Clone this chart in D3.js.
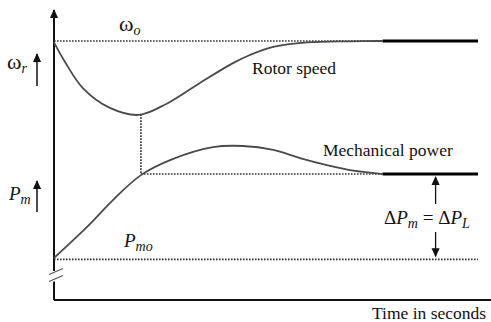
<!DOCTYPE html>
<html>
<head>
<meta charset="utf-8">
<script src="https://cdn.jsdelivr.net/npm/d3@7"></script>
<style>
  body { margin: 0; background: #fff; }
  svg { display: block; }
</style>
</head>
<body>
<div id="chart"></div>
<script>
// time axis (s) and response values (arbitrary units)
const rotorTime = [0, 0.26, 0.68, 1.32, 2.0, 2.67, 3.44, 4.22, 4.62, 5.17, 5.97, 6.98, 7.75];
const rotorSpeed = [92, 85, 75.7, 68.6, 66.1, 70.2, 77.5, 84.6, 87.5, 90.4, 92.0, 92.4, 92.5];
const powerTime = [0, 0.78, 1.39, 2.05, 2.81, 3.75, 4.46, 5.17, 5.8, 6.51, 6.98, 7.75];
const mechPower = [15, 26.1, 35.7, 44.6, 50.4, 54.6, 55, 53.6, 50.7, 47.9, 46.4, 45];

const omegaO = 92.5;   // initial speed
const pSteady = 45;    // final mechanical power
const pmO = 14.5;      // initial mechanical power
const tMin = 2.05;     // time of speed dip
const tSettle = 7.75;  // settling time
const tEnd = 10;

const width = 491,
  height = 322;
const serif = '"Liberation Serif", "Times New Roman", "DejaVu Serif", serif';

const svg = d3
  .select("#chart")
  .append("svg")
  .attr("width", width)
  .attr("height", height);

const xScale = d3.scaleLinear([0, tEnd], [54, 478]);
const yScale = d3.scaleLinear([0, 100], [300, 20]);

// arrow heads
const defs = svg.append("defs");
defs
  .append("marker")
  .attr("id", "arrow")
  .attr("viewBox", "0 0 10 10")
  .attr("refX", 9)
  .attr("refY", 5)
  .attr("markerWidth", 11)
  .attr("markerHeight", 9)
  .attr("markerUnits", "userSpaceOnUse")
  .attr("orient", "auto-start-reverse")
  .append("path")
  .attr("d", "M0,0.5 L10,5 L0,9.5 Z")
  .attr("fill", "#111");

/* Axes */
const x0 = xScale(0);
const yBase = yScale(0);

svg.append("line")
  .attr("x1", x0).attr("y1", yBase)
  .attr("x2", x0).attr("y2", yScale(6.6))
  .attr("stroke", "#111").attr("stroke-width", 2);

svg.append("line")
  .attr("x1", x0).attr("y1", yScale(10.4))
  .attr("x2", x0).attr("y2", yScale(103.6))
  .attr("stroke", "#111").attr("stroke-width", 2)
  .attr("marker-end", "url(#arrow)");

// axis break marks
[7.7, 10.2].forEach((v) => {
  svg.append("line")
    .attr("x1", x0 - 5).attr("y1", yScale(v) + 3)
    .attr("x2", x0 + 9).attr("y2", yScale(v) - 3)
    .attr("stroke", "#555").attr("stroke-width", 1.2);
});

svg.append("line")
  .attr("x1", x0).attr("y1", yBase)
  .attr("x2", xScale(10.6)).attr("y2", yBase)
  .attr("stroke", "#111").attr("stroke-width", 2)
  .attr("marker-end", "url(#arrow)");

/* Reference (dotted) lines */
const dotted = (t1, v1, t2, v2) =>
  svg.append("line")
    .attr("x1", xScale(t1)).attr("y1", yScale(v1))
    .attr("x2", xScale(t2)).attr("y2", yScale(v2))
    .attr("stroke", "#333")
    .attr("stroke-width", 1.6)
    .attr("stroke-dasharray", "1.6,1.4");

dotted(0, omegaO, tSettle, omegaO);
dotted(tMin, 66.3, tMin, pSteady);
dotted(tMin, pSteady, tSettle, pSteady);
dotted(0, pmO, tEnd, pmO);

/* Steady-state solid lines */
[omegaO, pSteady].forEach((v) => {
  svg.append("line")
    .attr("x1", xScale(tSettle)).attr("y1", yScale(v))
    .attr("x2", xScale(tEnd)).attr("y2", yScale(v))
    .attr("stroke", "#000").attr("stroke-width", 3);
});

/* Response curves */
const line = d3
  .line()
  .curve(d3.curveCatmullRom.alpha(0.5))
  .x((d) => xScale(d[0]))
  .y((d) => yScale(d[1]));

svg.append("path")
  .datum(d3.zip(rotorTime, rotorSpeed))
  .attr("fill", "none")
  .attr("stroke", "#4a4a4a")
  .attr("stroke-width", 1.8)
  .attr("d", line);

svg.append("path")
  .datum(d3.zip(powerTime, mechPower))
  .attr("fill", "none")
  .attr("stroke", "#4a4a4a")
  .attr("stroke-width", 1.8)
  .attr("d", line);

/* Delta P arrow */
svg.append("line")
  .attr("x1", xScale(9.0)).attr("y1", yScale(pSteady) + 30)
  .attr("x2", xScale(9.0)).attr("y2", yScale(pSteady) + 3)
  .attr("stroke", "#111").attr("stroke-width", 1.3)
  .attr("marker-end", "url(#arrow)");
svg.append("line")
  .attr("x1", xScale(9.0)).attr("y1", yScale(pSteady) + 58)
  .attr("x2", xScale(9.0)).attr("y2", yScale(pmO) - 3)
  .attr("stroke", "#111").attr("stroke-width", 1.3)
  .attr("marker-end", "url(#arrow)");

/* Labels */
const label = (x, y, size) =>
  svg.append("text")
    .attr("x", x).attr("y", y)
    .style("font-family", serif)
    .style("font-size", size + "px")
    .style("fill", "#111");

const sub = (t, txt, italic) =>
  t.append("tspan")
    .attr("dy", 4)
    .style("font-size", "14px")
    .style("font-style", italic ? "italic" : "normal")
    .text(txt);

// omega_o
let t = label(119, 31, 22);
t.append("tspan").text("ω");
sub(t, "o", true);

// omega_r with arrow
t = label(7, 69, 22);
t.append("tspan").text("ω");
sub(t, "r", true);
svg.append("line")
  .attr("x1", 37).attr("y1", 86).attr("x2", 37).attr("y2", 54)
  .attr("stroke", "#111").attr("stroke-width", 1.5)
  .attr("marker-end", "url(#arrow)");

// P_m with arrow
t = label(9, 200, 19);
t.append("tspan").style("font-style", "italic").text("P");
sub(t, "m", true);
svg.append("line")
  .attr("x1", 37).attr("y1", 212).attr("x2", 37).attr("y2", 181)
  .attr("stroke", "#111").attr("stroke-width", 1.5)
  .attr("marker-end", "url(#arrow)");

// P_mo
t = label(124, 247, 19);
t.append("tspan").style("font-style", "italic").text("P");
sub(t, "mo", true);

// Delta P_m = Delta P_L
t = label(384, 224, 19);
t.append("tspan").text("Δ");
t.append("tspan").style("font-style", "italic").text("P");
sub(t, "m", true);
t.append("tspan").attr("dy", -4).text(" = Δ");
t.append("tspan").style("font-style", "italic").text("P");
sub(t, "L", true);

label(252, 74, 17.5).text("Rotor speed");
label(323, 156, 17.5).text("Mechanical power");
label(372, 319, 17.5).text("Time in seconds");
</script>
</body>
</html>
